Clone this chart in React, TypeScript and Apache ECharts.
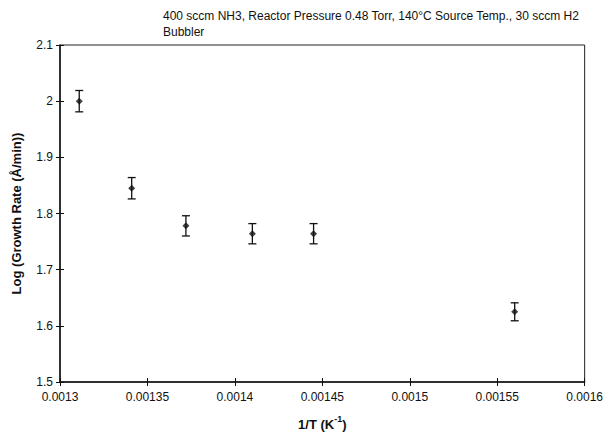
import React, { useEffect, useRef } from "react";
import * as echarts from "echarts";

const titleLines = [
  "400 sccm NH3, Reactor Pressure 0.48 Torr, 140°C Source Temp., 30 sccm H2",
  "Bubbler",
];
const xValues = [0.001311, 0.001341, 0.001372, 0.00141, 0.001445, 0.00156];
const yValues = [2.0, 1.845, 1.778, 1.764, 1.764, 1.625];
const yErrors = [0.019, 0.019, 0.018, 0.018, 0.018, 0.016];
const xMin = 0.0013;
const xMax = 0.0016;
const xStep = 0.00005;
const yMin = 1.5;
const yMax = 2.1;
const yStep = 0.1;

const FONT = "'Liberation Sans', Arial, sans-serif";

export default function App() {
  const ref = useRef<HTMLDivElement>(null);
  useEffect(() => {
    if (!ref.current) return;
    const chart = echarts.init(ref.current, null, { renderer: "svg" });
    const points = xValues.map((x, i) => [x, yValues[i]]);
    const bars = xValues.map((x, i) => [x, yValues[i], yErrors[i]]);
    const fmtX = (v: number) => parseFloat(v.toPrecision(6)).toString();
    const fmtY = (v: number) => parseFloat(v.toFixed(2)).toString();
    const baseX = {
      type: "value",
      min: xMin,
      max: xMax,
      interval: xStep,
      splitLine: { show: false },
    };
    const baseY = {
      type: "value",
      min: yMin,
      max: yMax,
      interval: yStep,
      splitLine: { show: false },
    };
    chart.setOption({
      animation: false,
      backgroundColor: "#fff",
      title: {
        text: titleLines.join("\n"),
        left: 158,
        top: 3,
        textStyle: {
          fontFamily: FONT,
          fontSize: 12,
          fontWeight: "normal",
          color: "#111",
          lineHeight: 16,
        },
      },
      grid: {
        left: 60,
        right: 16,
        top: 45,
        bottom: 52,
        show: true,
        borderColor: "#222",
        borderWidth: 1,
        backgroundColor: "transparent",
      },
      xAxis: [
        {
          ...baseX,
          position: "bottom",
          name: "{a|1/T (K}{s|-1}{a|)}",
          nameLocation: "middle",
          nameGap: 32,
          nameTextStyle: {
            rich: {
              a: { fontFamily: FONT, fontSize: 13, fontWeight: "bold", color: "#111", lineHeight: 17, verticalAlign: "bottom" },
              s: { fontFamily: FONT, fontSize: 9, fontWeight: "bold", color: "#111", lineHeight: 17, verticalAlign: "top" },
            },
          },
          axisLine: { show: true, lineStyle: { color: "#111", width: 1.5 } },
          axisTick: { show: true, inside: false, length: 4, lineStyle: { color: "#111", width: 1 } },
          axisLabel: {
            formatter: fmtX,
            fontFamily: FONT,
            fontSize: 12,
            color: "#111",
            margin: 9,
          },
        },
        {
          ...baseX,
          position: "bottom",
          axisLine: { show: false },
          axisTick: { show: true, inside: true, length: 4, lineStyle: { color: "#111", width: 1 } },
          axisLabel: { show: false },
        },
      ],
      yAxis: [
        {
          ...baseY,
          position: "left",
          name: "Log (Growth Rate (Å/min))",
          nameLocation: "middle",
          nameGap: 37,
          nameRotate: 90,
          nameTextStyle: { fontFamily: FONT, fontSize: 13, fontWeight: "bold", color: "#111" },
          axisLine: { show: true, lineStyle: { color: "#111", width: 1.5 } },
          axisTick: { show: true, inside: false, length: 4, lineStyle: { color: "#111", width: 1 } },
          axisLabel: {
            formatter: fmtY,
            fontFamily: FONT,
            fontSize: 12,
            color: "#111",
            margin: 7,
          },
        },
        {
          ...baseY,
          position: "left",
          axisLine: { show: false },
          axisTick: { show: true, inside: true, length: 4, lineStyle: { color: "#111", width: 1 } },
          axisLabel: { show: false },
        },
      ],
      series: [
        {
          type: "custom",
          xAxisIndex: 0,
          yAxisIndex: 0,
          data: bars,
          encode: { x: 0, y: 1 },
          renderItem: (params: any, api: any) => {
            const x = api.value(0);
            const y = api.value(1);
            const e = api.value(2);
            const top = api.coord([x, y + e]);
            const bot = api.coord([x, y - e]);
            const w = 4;
            const style = { stroke: "#111", lineWidth: 1.3 };
            return {
              type: "group",
              children: [
                { type: "line", shape: { x1: top[0], y1: top[1], x2: bot[0], y2: bot[1] }, style },
                { type: "line", shape: { x1: top[0] - w, y1: top[1], x2: top[0] + w, y2: top[1] }, style },
                { type: "line", shape: { x1: bot[0] - w, y1: bot[1], x2: bot[0] + w, y2: bot[1] }, style },
              ],
            };
          },
          z: 2,
        },
        {
          type: "scatter",
          xAxisIndex: 0,
          yAxisIndex: 0,
          data: points,
          symbol: "diamond",
          symbolSize: 7,
          itemStyle: { color: "#111" },
          z: 3,
        },
      ],
    });
    return () => chart.dispose();
  }, []);
  return (
    <div
      ref={ref}
      style={{ position: "absolute", left: 0, top: 0, width: 606, height: 436 }}
    />
  );
}
